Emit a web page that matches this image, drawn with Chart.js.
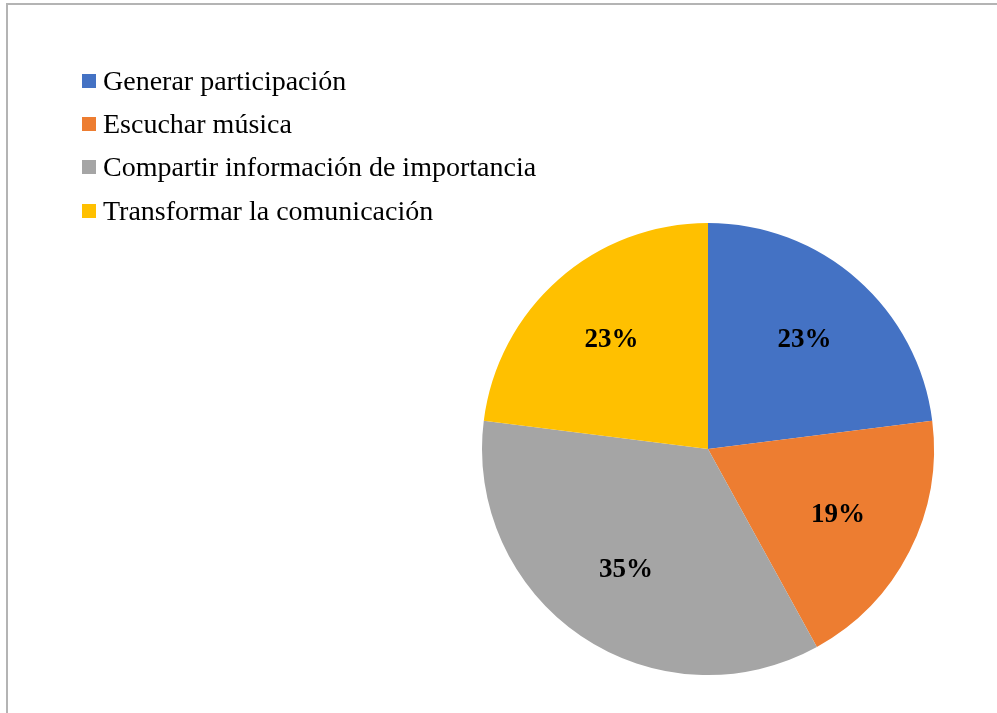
<!DOCTYPE html>
<html>
<head>
<meta charset="utf-8">
<script src="https://cdn.jsdelivr.net/npm/chart.js@4/dist/chart.umd.min.js"></script>
<style>
    html, body { margin: 0; padding: 0; background: #fff; overflow: hidden; }
    #wrap { position: relative; width: 997px; height: 713px; }
    #frame {
        position: absolute; left: 6px; top: 3px; width: 1000px; height: 720px;
        border-left: 2px solid #b4b4b4; border-top: 2px solid #b4b4b4;
    }
    #chart { position: absolute; left: 0; top: 0; }
    #legend { position: absolute; left: 82px; top: 59px; font-family: "Liberation Serif", "Times New Roman", serif; font-size: 28px; color: #000; }
    .item { height: 43.3px; display: flex; align-items: center; white-space: nowrap; }
    .box { width: 14px; height: 14px; margin-right: 7px; }
</style>
</head>
<body>
<div id="wrap">
    <div id="frame"></div>
    <canvas id="chart" width="997" height="713"></canvas>
    <div id="legend"></div>
</div>
<script>
// Chart data
const labels = ["Generar participación", "Escuchar música", "Compartir información de importancia", "Transformar la comunicación"];
const values = [23, 19, 35, 23];
const colours = ["#4472c4", "#ed7d31", "#a5a5a5", "#ffc000"];

// HTML legend
const legend = document.getElementById("legend");
labels.forEach((l, i) => {
    const row = document.createElement("div");
    row.className = "item";
    const box = document.createElement("span");
    box.className = "box";
    box.style.backgroundColor = colours[i];
    const txt = document.createElement("span");
    txt.textContent = l;
    row.appendChild(box);
    row.appendChild(txt);
    legend.appendChild(row);
});

// Draw percentage labels inside slices
const sliceLabels = {
    id: "sliceLabels",
    afterDatasetsDraw(chart) {
        const ctx = chart.ctx;
        const meta = chart.getDatasetMeta(0);
        const total = values.reduce((a, b) => a + b, 0);
        ctx.save();
        ctx.font = "bold 27px 'Liberation Serif', 'Times New Roman', serif";
        ctx.fillStyle = "#000";
        ctx.textAlign = "center";
        ctx.textBaseline = "middle";
        meta.data.forEach((arc, i) => {
            const p = arc.getProps(["x", "y", "startAngle", "endAngle", "outerRadius"], true);
            const mid = (p.startAngle + p.endAngle) / 2;
            const r = p.outerRadius * 0.645;
            const pct = Math.round(values[i] / total * 100) + "%";
            ctx.fillText(pct, p.x + Math.cos(mid) * r, p.y + Math.sin(mid) * r);
        });
        ctx.restore();
    }
};

new Chart(document.getElementById("chart"), {
    type: "pie",
    data: {
        labels: labels,
        datasets: [{
            data: values,
            backgroundColor: colours,
            borderWidth: 0
        }]
    },
    options: {
        responsive: false,
        animation: false,
        layout: { padding: { left: 482, right: 63, top: 223, bottom: 38 } },
        plugins: {
            legend: { display: false },
            tooltip: { enabled: false }
        }
    },
    plugins: [sliceLabels]
});
</script>
</body>
</html>
